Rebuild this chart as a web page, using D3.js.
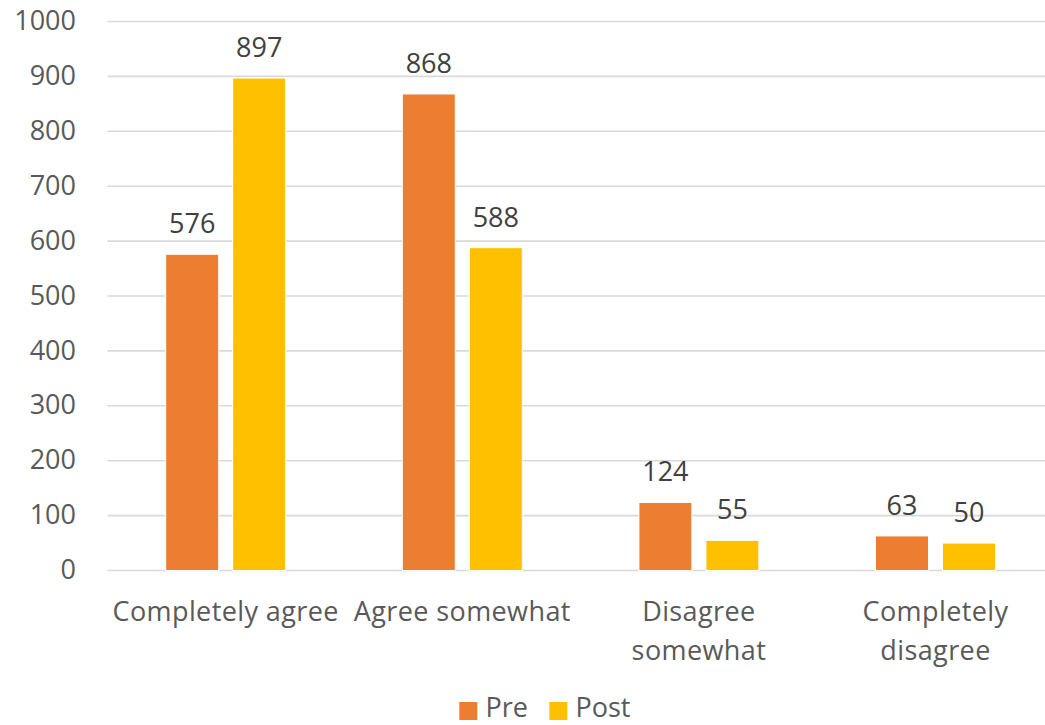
<!DOCTYPE html>
<html>
<head>
<meta charset="utf-8">
<script src="https://cdn.jsdelivr.net/npm/d3@7"></script>
<style>
  html, body { margin: 0; padding: 0; background: #fff; }
  svg { display: block; }
  text { font-family: "Open Sans", "Liberation Sans", sans-serif; }
</style>
</head>
<body>
<svg id="chart" width="1045" height="725"></svg>
<script>
// Survey responses before and after
const categories = ["Completely agree", "Agree somewhat", "Disagree somewhat", "Completely disagree"];
const categoryLines = [["Completely agree"], ["Agree somewhat"], ["Disagree", "somewhat"], ["Completely", "disagree"]];
const series = ["Pre", "Post"];
const preValues = [576, 868, 124, 63];
const postValues = [897, 588, 55, 50];
const yTicks = [0, 100, 200, 300, 400, 500, 600, 700, 800, 900, 1000];
const colors = ["#ED7D31", "#FFC000"];

const svg = d3.select("#chart");
const plot = { left: 107.4, right: 1053.8, top: 21.5, bottom: 570.5 };
const fontSize = "27px";

const x0 = d3.scaleBand().domain(categories).range([plot.left, plot.right]).paddingInner(0).paddingOuter(0);
const groupW = 120;
const x1 = d3.scaleBand().domain(series).range([0, groupW]).paddingInner(14 / 67).paddingOuter(0);
const y = d3.scaleLinear().domain([0, 1000]).range([plot.bottom, plot.top]);

// gridlines
svg.append("g")
  .selectAll("line")
  .data(yTicks)
  .join("line")
  .attr("x1", plot.left)
  .attr("x2", plot.right)
  .attr("y1", d => y(d))
  .attr("y2", d => y(d))
  .attr("stroke", "#D9D9D9")
  .attr("stroke-width", 1.6);

// y axis labels
const yAxis = d3.axisLeft(y).tickValues(yTicks).tickFormat(d3.format("d")).tickSize(0).tickPadding(0);
const gy = svg.append("g").attr("transform", "translate(76,0)").call(yAxis);
gy.select(".domain").remove();
gy.selectAll("text")
  .attr("fill", "#595959")
  .style("font-size", fontSize)
  .style("font-family", "'Open Sans', 'Liberation Sans', sans-serif")
  .attr("dy", "0.3em");

// bars
const rows = categories.map((c, i) => ({ cat: c, vals: [preValues[i], postValues[i]] }));
const groups = svg.append("g")
  .selectAll("g")
  .data(rows)
  .join("g")
  .attr("transform", d => `translate(${x0(d.cat) + (x0.bandwidth() - groupW) / 2},0)`);

groups.selectAll("rect")
  .data(d => d.vals.map((v, j) => ({ s: series[j], v, j })))
  .join("rect")
  .attr("x", d => x1(d.s))
  .attr("width", x1.bandwidth())
  .attr("y", d => y(d.v))
  .attr("height", d => y(0) - y(d.v))
  .attr("fill", d => colors[d.j])
  .attr("stroke", "#fff")
  .attr("stroke-width", 1);

// value labels
groups.selectAll("text.val")
  .data(d => d.vals.map((v, j) => ({ s: series[j], v, j })))
  .join("text")
  .attr("class", "val")
  .attr("x", d => x1(d.s) + x1.bandwidth() / 2)
  .attr("y", d => y(d.v) - 21)
  .attr("text-anchor", "middle")
  .attr("fill", "#404040")
  .style("font-size", fontSize)
  .text(d => d.v);

// category labels
const catG = svg.append("g");
categories.forEach((c, i) => {
  const cx = x0(c) + x0.bandwidth() / 2;
  const t = catG.append("text")
    .attr("text-anchor", "middle")
    .attr("fill", "#595959")
    .style("font-size", fontSize)
    .style("letter-spacing", "0.4px");
  categoryLines[i].forEach((ln, k) => {
    t.append("tspan").attr("x", cx).attr("y", 620.5 + k * 39).text(ln);
  });
});

// legend
const legend = svg.append("g");
const legendItems = [
  { name: series[0], color: colors[0], sx: 459.3, tx: 485.5 },
  { name: series[1], color: colors[1], sx: 549.3, tx: 575.5 }
];
legendItems.forEach(d => {
  legend.append("rect").attr("x", d.sx).attr("y", 702).attr("width", 18).attr("height", 18).attr("fill", d.color);
  legend.append("text").attr("x", d.tx).attr("y", 716.5).attr("fill", "#595959").style("font-size", fontSize).text(d.name);
});
</script>
</body>
</html>
